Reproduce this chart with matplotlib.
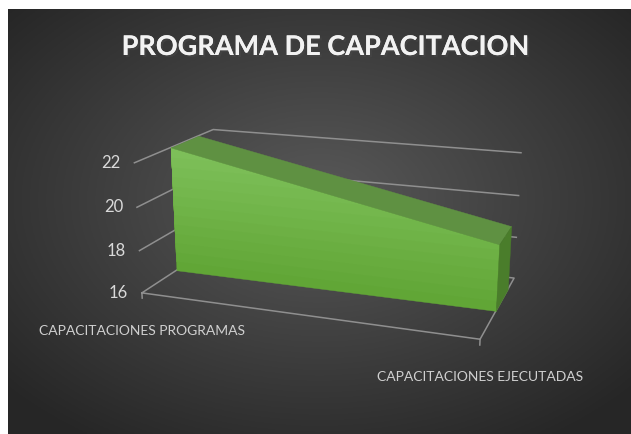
import numpy as np
import matplotlib
matplotlib.use("Agg")
import matplotlib.pyplot as plt
from matplotlib import patheffects
from mpl_toolkits.mplot3d import proj3d
from mpl_toolkits.mplot3d.art3d import Poly3DCollection

W, H = 631, 434

categories = ["CAPACITACIONES PROGRAMAS", "CAPACITACIONES EJECUTADAS"]
values = [22, 19]
y_ticks = [16, 18, 20, 22]
title = "PROGRAMA DE CAPACITACION"

fig = plt.figure(figsize=(W / 100, H / 100), dpi=100)
fig.patch.set_facecolor("white")

# dark radial background (chart area starts a few px in from the top-left)
bg = fig.add_axes([8 / W, 0, (W - 8) / W, (H - 9) / H])
gx, gy = np.meshgrid(np.linspace(-1, 1, 300), np.linspace(-1, 1, 220))
r = np.clip(np.sqrt(gx ** 2 + (gy + 0.1) ** 2) / 1.35, 0, 1)
shade = 0.35 - 0.2 * r
bg.imshow(np.dstack([shade] * 3), aspect="auto", extent=(0, 1, 0, 1))
bg.set_axis_off()

# 3d axes, view fitted to the reference perspective
ax = fig.add_axes([41.2 / W, 9.81 / H, 0.9041, 0.9041], projection="3d")
ax.patch.set_alpha(0)
ax.set_xlim(0, 1)
ax.set_ylim(0, 1)
ax.set_zlim(y_ticks[0], y_ticks[-1])
ax.set_box_aspect((1, 0.497, 0.390))
ax.set_proj_type("persp", focal_length=0.4776)
ax.view_init(elev=16.743, azim=-70.118)
ax.set_axis_off()
ax.computed_zorder = False

x = np.arange(len(categories))
z0 = y_ticks[0]
d0, d1 = 0.425, 0.79

# walls and floor
grid_kw = dict(color="#8f8f8f", lw=1.1)
for v in y_ticks[1:]:
    ax.plot([x[0], x[0], x[-1]], [0, 1, 1], [v, v, v], zorder=1, **grid_kw)
ax.plot([x[0], x[-1], x[-1], x[0], x[0]], [0, 0, 1, 1, 0], [z0] * 5, zorder=2, **grid_kw)
for xi in x:
    ax.plot([xi, xi], [0, 0], [z0, z0 - 0.25], zorder=2, **grid_kw)

# front face with a soft vertical gradient (stacked layers, lighter towards the top)
light = np.array([0.49, 0.75, 0.35])
dark = np.array([0.38, 0.65, 0.21])
levels = np.linspace(z0, max(values), 14)[:-1]
for i, zl in enumerate(levels):
    col = dark + (light - dark) * i / (len(levels) - 1)
    poly = []
    for xi in np.linspace(x[0], x[-1], 41):
        top_z = np.interp(xi, x, values)
        if top_z > zl:
            poly.append((xi, top_z))
    if len(poly) < 2:
        continue
    xl, xr = poly[0][0], poly[-1][0]
    verts = [(xl, d0, zl), (xr, d0, zl)] + [(px, d0, pz) for px, pz in poly[::-1]]
    ax.add_collection3d(Poly3DCollection([verts], facecolor=col, edgecolor=col, lw=0.3, zorder=3))

top = [[(x[0], d0, values[0]), (x[1], d0, values[1]), (x[1], d1, values[1]), (x[0], d1, values[0])]]
side = [[(x[1], d0, z0), (x[1], d1, z0), (x[1], d1, values[1]), (x[1], d0, values[1])]]
ax.add_collection3d(Poly3DCollection(top, facecolor="#5f9142", edgecolor="#5f9142", lw=0.3, zorder=4))
ax.add_collection3d(Poly3DCollection(side, facecolor="#4a7d2b", edgecolor="#4a7d2b", lw=0.3, zorder=5))

M = ax.get_proj()
lab_font = ["Lato", "DejaVu Sans"]
for v in y_ticks:
    xs, ys, _ = proj3d.proj_transform(x[0], 0, v, M)
    ax.annotate(str(v), (xs, ys), xytext=(-14, 0), textcoords="offset pixels",
                ha="right", va="center", color="#d9d9d9", fontsize=12, family=lab_font)
for xi, c in zip(x, categories):
    xs, ys, _ = proj3d.proj_transform(xi, 0, z0, M)
    ax.annotate(c, (xs, ys), xytext=(0, -38), textcoords="offset pixels",
                ha="center", va="center", color="#d0d0d0", fontsize=10, family=lab_font)

fig.text(325.5 / W, 1 - 55 / H, title, ha="center", va="baseline",
         fontsize=19.5, fontweight="bold", color="#f2f2f2", family=["Lato", "DejaVu Sans"],
         path_effects=[patheffects.withSimplePatchShadow(offset=(1.5, -1.5), alpha=0.5),
                       patheffects.Normal()])

fig.savefig("out.png", dpi=100)
